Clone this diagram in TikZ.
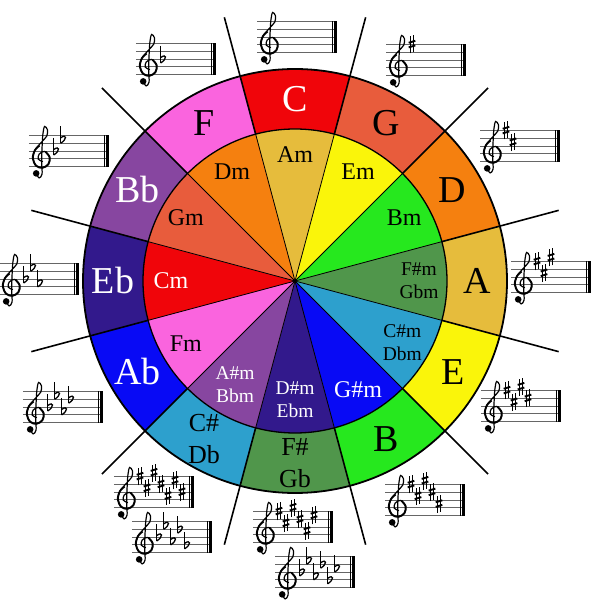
\documentclass[tikz,border=0pt]{standalone}
\usepackage{fontspec}
\setmainfont{Liberation Serif}
\usepackage{xcolor}
\usepackage{tikz}

\definecolor{cC}{RGB}{240,5,10}
\definecolor{cG}{RGB}{232,92,60}
\definecolor{cD}{RGB}{245,128,15}
\definecolor{cA}{RGB}{230,188,60}
\definecolor{cE}{RGB}{250,245,10}
\definecolor{cB}{RGB}{38,232,30}
\definecolor{cFs}{RGB}{80,150,75}
\definecolor{cCs}{RGB}{45,160,205}
\definecolor{cAb}{RGB}{8,10,245}
\definecolor{cEb}{RGB}{50,25,140}
\definecolor{cBb}{RGB}{135,70,160}
\definecolor{cF}{RGB}{250,100,222}

\tikzset{
  pics/clef/.style={code={
    \draw[line width=1.2pt, x=8.4pt, y=7.8pt, line cap=round] plot[smooth, tension=0.55] coordinates {
      (0.5,-2.9) (0.85,-3.45) (1.2,-2.95) (1.15,-1.5) (1.2,0.5) (1.3,2.2) (1.5,3.15)
      (1.85,2.7) (1.75,1.9) (1.1,1.1) (0.35,0.1) (0.1,-0.95) (0.5,-1.9) (1.25,-2.15)
      (1.95,-1.7) (2.1,-0.8) (1.5,-0.05) (0.85,-0.4) (0.75,-1.05) (1.25,-1.35)};
    % heavier belly
    \draw[line width=1.9pt, x=8.4pt, y=7.8pt] plot[smooth, tension=0.55] coordinates {
      (0.9,0.7) (0.35,0.1) (0.1,-0.95) (0.5,-1.9) (1.25,-2.15) (1.95,-1.7) (2.1,-0.8) (1.6,-0.1)};
    \fill (4.2,-22.4) circle[radius=3.3pt];
  }},
  pics/sharp/.style={code={
    \draw[line width=0.8pt] (-1.6,-9) -- (-1.6,8) (1.6,-8) -- (1.6,9);
    \draw[line width=1.9pt] (-3.3,-3) -- (3.3,-1) (-3.3,1.6) -- (3.3,3.6);
  }},
  pics/flat/.style={code={
    \draw[line width=0.9pt] (-2.4,13) -- (-2.4,-4);
    \draw[line width=1.3pt] (-2.4,-4) .. controls (4.4,0) and (3.8,6) .. (-2.4,1.4);
  }},
  pics/staff/.style={code={
    \foreach \j in {-2,...,2}
      \draw[black!60, line width=0.75pt] (-40,7.8*\j) -- (40,7.8*\j);
    \draw[line width=0.6pt] (35,-15.6) -- (35,15.6);
    \draw[line width=2.4pt] (38.6,-15.6) -- (38.6,15.6);
    \pic at (-37,0) {clef};
  }},
  pics/sharps/.style={code={
    \pic {staff};
    \foreach \p [count=\k] in {8,5,9,6,3,7,4}
      {\ifnum\k>#1\relax\else \pic at (-21+7*\k,3.9*\p-15.6) {sharp};\fi}
  }},
  pics/flats/.style={code={
    \pic {staff};
    \foreach \p [count=\k] in {4,7,3,6,2,5,1}
      {\ifnum\k>#1\relax\else \pic at (-20+7*\k,3.9*\p-15.6) {flat};\fi}
  }}
}

\begin{document}
\begin{tikzpicture}[x=1pt, y=1pt,
    major/.style={inner sep=0pt, font=\fontsize{38}{38}\selectfont},
    major2/.style={inner sep=0pt, align=center, font=\fontsize{26}{32}\selectfont},
    minor/.style={inner sep=0pt, font=\fontsize{24}{24}\selectfont},
    minor2/.style={inner sep=0pt, align=center, font=\fontsize{19.5}{23}\selectfont}]
  \useasboundingbox (-295,-323) rectangle (299,281);

  \foreach \c [count=\i from 0] in {cC,cG,cD,cA,cE,cB,cFs,cCs,cAb,cEb,cBb,cF}
    \fill[\c] (0,0) -- (105-30*\i:212) arc[start angle=105-30*\i, end angle=75-30*\i, radius=212] -- cycle;
  \foreach \c [count=\i from 0] in {cA,cE,cB,cFs,cCs,cAb,cEb,cBb,cF,cC,cG,cD}
    \fill[\c] (0,0) -- (105-30*\i:152) arc[start angle=105-30*\i, end angle=75-30*\i, radius=152] -- cycle;

  \foreach \a in {15,45,...,345} {
    \draw[line width=0.8pt] (0,0) -- (\a:152);
    \draw[line width=1.6pt] (\a:152) -- (\a:273);
  }
  \draw[line width=1.8pt] (0,0) circle[radius=212];
  \draw[line width=1.3pt] (0,0) circle[radius=152];

  \node[major, text=white] (kC) at (90:182) {C};
  \node[major] (kG) at (60:182) {G};
  \node[major] (kD) at (30:182) {D};
  \node[major] (kA) at (0:182) {A};
  \node[major] (kE) at (-30:182) {E};
  \node[major] (kB) at (-60:182) {B};
  \node[major2] (kFs) at (-90:182) {F\#\\Gb};
  \node[major2] (kCs) at (-120:182) {C\#\\Db};
  \node[major, text=white] (kAb) at (-150:182) {Ab};
  \node[major, text=white] (kEb) at (180:182) {Eb};
  \node[major, text=white] (kBb) at (150:182) {Bb};
  \node[major] (kF) at (120:182) {F};

  \node[minor] (mA) at (90:126) {Am};
  \node[minor] (mE) at (60:126) {Em};
  \node[minor] (mB) at (30:126) {Bm};
  \node[minor2] (mFs) at (0:124) {F\#m\\Gbm};
  \node[minor2] (mCs) at (-30:124) {C\#m\\Dbm};
  \node[minor, text=white] (mGs) at (-60:126) {G\#m};
  \node[minor2, text=white] (mDs) at (-90:119) {D\#m\\Ebm};
  \node[minor2, text=white] (mAs) at (-120:120) {A\#m\\Bbm};
  \node[minor] (mF) at (-150:126) {Fm};
  \node[minor, text=white] (mC) at (180:124) {Cm};
  \node[minor] (mG) at (150:126) {Gm};
  \node[minor] (mD) at (120:126) {Dm};

  \pic at (2,244) {sharps=0};
  \pic at (131,221) {sharps=1};
  \pic at (225,135) {sharps=2};
  \pic at (256,4) {sharps=3};
  \pic at (226,-125) {sharps=4};
  \pic at (130,-219) {sharps=5};
  \pic at (-2,-246) {sharps=6};
  \pic at (20,-291) {flats=6};
  \pic at (-141,-211) {sharps=7};
  \pic at (-123,-256) {flats=5};
  \pic at (-232,-126) {flats=4};
  \pic at (-256,2) {flats=3};
  \pic at (-226,130) {flats=2};
  \pic at (-119,222) {flats=1};
\end{tikzpicture}
\end{document}
